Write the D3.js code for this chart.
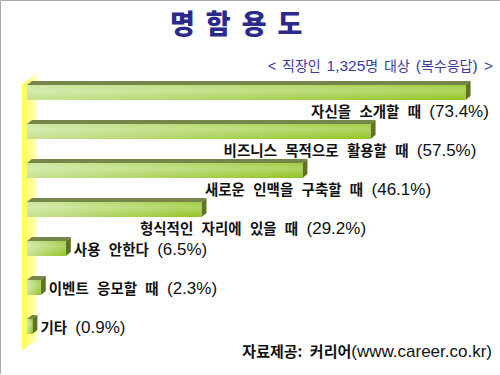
<!DOCTYPE html>
<html>
<head>
<meta charset="utf-8">
<script src="https://cdn.jsdelivr.net/npm/d3@7"></script>
<style>
  body { margin: 0; background: #fff; }
  #chart { display: block; }
</style>
</head>
<body>
<svg id="chart" width="500" height="375"></svg>
<script>
// data
const categories = [
  '자신을 소개할 때',
  '비즈니스 목적으로 활용할 때',
  '새로운 인맥을 구축할 때',
  '형식적인 자리에 있을 때',
  '사용 안한다',
  '이벤트 응모할 때',
  '기타',
];
const values = [73.4, 57.5, 46.1, 29.2, 6.5, 2.3, 0.9];
const titleText = '명함용도';
const subtitleParts = ['< 직장인 ', '1,325', '명 대상 ', '(', '복수응답', ') >'];
const sourceLabel = '자료제공: 커리어';
const sourceUrl = '(www.career.co.kr)';

class BarChart3D {
  constructor(_config) {
    this.config = {
      parentElementSelector: _config.parentElementSelector,
      depth: _config.depth || { dx: 5, dy: -4 },
      fontLatin: "'Liberation Sans', Arial",
      fontKr: "'Noto Sans CJK KR'",
    };
    this.initVis();
  }

  initVis() {
    const vis = this;
    vis.svg = d3.select(vis.config.parentElementSelector);

    // x: percent -> px, front face starts at the wall
    vis.xScale = d3.scaleLinear().domain([0, 80]).range([27, 505]);
    vis.yScale = d3
      .scaleBand()
      .domain(categories)
      .range([73, 346])
      .paddingInner(0.615)
      .paddingOuter(0.3075);

    const defs = vis.svg.append('defs');
    const front = defs.append('linearGradient').attr('id', 'barFront');
    front.append('stop').attr('offset', '0%').attr('stop-color', '#c6e291');
    front.append('stop').attr('offset', '100%').attr('stop-color', '#8fc420');

    const shine = defs
      .append('linearGradient')
      .attr('id', 'barShine')
      .attr('x1', 0).attr('y1', 0).attr('x2', 0).attr('y2', 1);
    shine.append('stop').attr('offset', '0%').attr('stop-color', '#fff').attr('stop-opacity', 0.15);
    shine.append('stop').attr('offset', '35%').attr('stop-color', '#fff').attr('stop-opacity', 0.3);
    shine.append('stop').attr('offset', '100%').attr('stop-color', '#fff').attr('stop-opacity', 0);

    const wall = defs.append('linearGradient').attr('id', 'wall');
    wall.append('stop').attr('offset', '0%').attr('stop-color', '#ffff48');
    wall.append('stop').attr('offset', '40%').attr('stop-color', '#ffff78');
    wall.append('stop').attr('offset', '100%').attr('stop-color', '#ffffc8');

    // slide border (top + left only)
    vis.svg.append('path')
      .attr('d', 'M0.5,374 V0.5 H500')
      .attr('fill', 'none')
      .attr('stroke', '#a8a8a8');

    vis.updateVis();
  }

  updateVis() {
    const vis = this;
    const { dx, dy } = vis.config.depth;
    const x = vis.xScale;
    const y = vis.yScale;
    const bw = y.bandwidth();

    // title
    vis.svg.append('text')
      .attr('x', 170)
      .attr('y', 34)
      .attr('font-family', vis.config.fontKr)
      .attr('font-weight', 900)
      .attr('font-size', 27)
      .attr('letter-spacing', 11)
      .attr('fill', '#2a2a8c')
      .text(titleText);

    // subtitle, hangul and latin sized separately
    vis.svg.append('text')
      .attr('x', 493)
      .attr('y', 71)
      .attr('text-anchor', 'end')
      .attr('fill', '#3a3aa0')
      .attr('word-spacing', 2)
      .selectAll('tspan')
      .data(subtitleParts)
      .join('tspan')
      .attr('font-family', (d, i) => (i % 2 ? vis.config.fontLatin : `${vis.config.fontLatin}, ${vis.config.fontKr}`))
      .attr('font-size', (d, i) => (i % 2 ? 15.5 : 14))
      .text((d) => d);

    // yellow side wall
    const wallTop = y(categories[0]) + dy - 5;
    vis.svg.append('path')
      .attr('d', `M22,${wallTop + 9} L35,${wallTop - 2} L37,${wallTop - 2} L37,340 L22,350 Z`)
      .attr('fill', 'url(#wall)');

    const bars = vis.svg.append('g').attr('class', 'bars')
      .selectAll('g')
      .data(categories)
      .join('g');

    // top face
    bars.append('path')
      .attr('d', (d, i) => {
        const x0 = x(0), x1 = x(values[i]), yt = y(d);
        return `M${x0},${yt} L${x0 + dx},${yt + dy} L${x1 + dx},${yt + dy} L${x1},${yt} Z`;
      })
      .attr('fill', '#76864a');

    // side face
    bars.append('path')
      .attr('d', (d, i) => {
        const x1 = x(values[i]), yt = y(d);
        return `M${x1},${yt} L${x1 + dx},${yt + dy} L${x1 + dx},${yt + bw + dy} L${x1},${yt + bw} Z`;
      })
      .attr('fill', '#5e7420');

    // front face
    bars.append('rect')
      .attr('x', x(0))
      .attr('y', (d) => y(d))
      .attr('width', (d, i) => x(values[i]) - x(0))
      .attr('height', bw)
      .attr('fill', 'url(#barFront)');
    bars.append('rect')
      .attr('x', x(0))
      .attr('y', (d) => y(d))
      .attr('width', (d, i) => x(values[i]) - x(0))
      .attr('height', bw)
      .attr('fill', 'url(#barShine)');

    // labels: long bars get the label underneath, short ones to the right
    const labelMid = [400, 350, 318, 253];
    const labels = vis.svg.append('g')
      .attr('fill', '#111')
      .selectAll('text')
      .data(categories)
      .join('text')
      .attr('x', (d, i) => (i < labelMid.length ? labelMid[i] : x(values[i]) + dx + 3))
      .attr('y', (d, i) => (i < labelMid.length ? y(d) + bw + 16.5 : y(d) + bw / 2 + 6))
      .attr('text-anchor', (d, i) => (i < labelMid.length ? 'middle' : 'start'))
      .attr('word-spacing', 5);

    labels.append('tspan')
      .attr('font-family', vis.config.fontKr)
      .attr('font-weight', 'bold')
      .attr('font-size', 14.5)
      .text((d) => d + ' ');
    labels.append('tspan')
      .attr('font-family', vis.config.fontLatin)
      .attr('font-size', 17)
      .text((d, i) => `(${values[i]}%)`);

    // source
    const src = vis.svg.append('text')
      .attr('x', 492)
      .attr('y', 357)
      .attr('text-anchor', 'end')
      .attr('fill', '#111')
      .attr('word-spacing', 4);
    src.append('tspan')
      .attr('font-family', vis.config.fontKr)
      .attr('font-weight', 'bold')
      .attr('font-size', 15)
      .text(sourceLabel);
    src.append('tspan')
      .attr('font-family', vis.config.fontLatin)
      .attr('font-size', 17)
      .text(sourceUrl);
  }
}

const chart = new BarChart3D({ parentElementSelector: '#chart' });
</script>
</body>
</html>
